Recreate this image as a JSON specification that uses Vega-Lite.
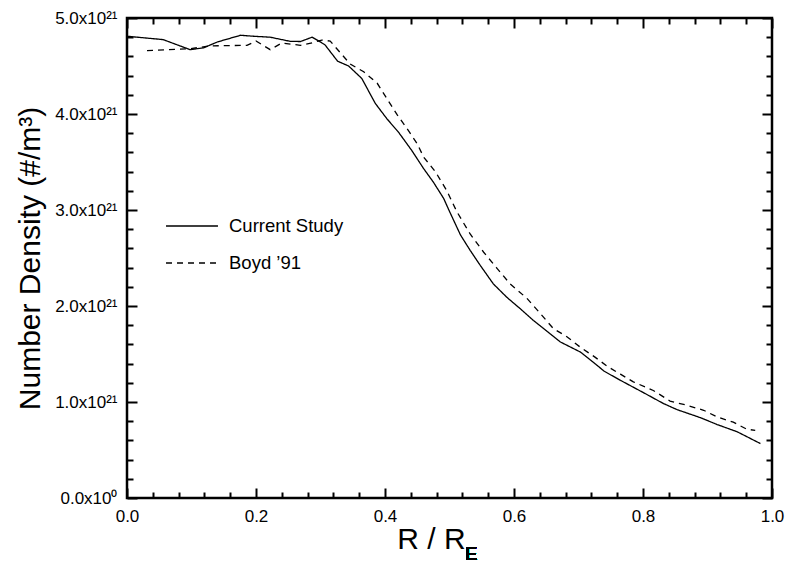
{
  "$schema": "https://vega.github.io/schema/vega-lite/v6.json",
  "width": 645,
  "height": 480,
  "autosize": {"type": "none"},
  "padding": {"left": 127, "top": 18, "right": 16, "bottom": 67},
  "config": {
    "view": {"stroke": "black", "strokeWidth": 2.5},
    "font": "Liberation Sans",
    "axis": {
      "domain": false, "grid": false, "ticks": true, "tickColor": "black", "tickWidth": 2, "tickOpacity": 1, "zindex": 1,
      "labelColor": "black", "titleColor": "black", "labelFont": "Liberation Sans",
      "titleFont": "Liberation Sans", "labelFontSize": 17, "titleFontSize": 30, "titleFontWeight": "normal",
      "labelFlush": false, "labelOverlap": false
    }
  },
  "datasets": {
    "curves": [
      {"series": "Current Study", "r": 0.0, "n": 4.81},
      {"series": "Current Study", "r": 0.056, "n": 4.775},
      {"series": "Current Study", "r": 0.098, "n": 4.67},
      {"series": "Current Study", "r": 0.119, "n": 4.69},
      {"series": "Current Study", "r": 0.14, "n": 4.75},
      {"series": "Current Study", "r": 0.176, "n": 4.82},
      {"series": "Current Study", "r": 0.196, "n": 4.81},
      {"series": "Current Study", "r": 0.222, "n": 4.8},
      {"series": "Current Study", "r": 0.253, "n": 4.757},
      {"series": "Current Study", "r": 0.269, "n": 4.755},
      {"series": "Current Study", "r": 0.287, "n": 4.8},
      {"series": "Current Study", "r": 0.3, "n": 4.75},
      {"series": "Current Study", "r": 0.307, "n": 4.72},
      {"series": "Current Study", "r": 0.3265, "n": 4.55},
      {"series": "Current Study", "r": 0.3436, "n": 4.5},
      {"series": "Current Study", "r": 0.364, "n": 4.37},
      {"series": "Current Study", "r": 0.385, "n": 4.11},
      {"series": "Current Study", "r": 0.403, "n": 3.95},
      {"series": "Current Study", "r": 0.421, "n": 3.81},
      {"series": "Current Study", "r": 0.4415, "n": 3.62},
      {"series": "Current Study", "r": 0.46, "n": 3.43},
      {"series": "Current Study", "r": 0.475, "n": 3.29},
      {"series": "Current Study", "r": 0.491, "n": 3.12},
      {"series": "Current Study", "r": 0.499, "n": 3.0},
      {"series": "Current Study", "r": 0.517, "n": 2.74},
      {"series": "Current Study", "r": 0.532, "n": 2.58},
      {"series": "Current Study", "r": 0.548, "n": 2.42},
      {"series": "Current Study", "r": 0.568, "n": 2.23},
      {"series": "Current Study", "r": 0.589, "n": 2.09},
      {"series": "Current Study", "r": 0.61, "n": 1.97},
      {"series": "Current Study", "r": 0.63, "n": 1.85},
      {"series": "Current Study", "r": 0.646, "n": 1.765},
      {"series": "Current Study", "r": 0.672, "n": 1.625},
      {"series": "Current Study", "r": 0.703, "n": 1.52},
      {"series": "Current Study", "r": 0.72, "n": 1.43},
      {"series": "Current Study", "r": 0.74, "n": 1.32},
      {"series": "Current Study", "r": 0.765, "n": 1.226},
      {"series": "Current Study", "r": 0.8, "n": 1.1},
      {"series": "Current Study", "r": 0.832, "n": 0.983},
      {"series": "Current Study", "r": 0.853, "n": 0.92},
      {"series": "Current Study", "r": 0.889, "n": 0.837},
      {"series": "Current Study", "r": 0.915, "n": 0.765},
      {"series": "Current Study", "r": 0.946, "n": 0.69},
      {"series": "Current Study", "r": 0.982, "n": 0.567},
      {"series": "Boyd ’91", "r": 0.031, "n": 4.66},
      {"series": "Boyd ’91", "r": 0.098, "n": 4.68},
      {"series": "Boyd ’91", "r": 0.129, "n": 4.71},
      {"series": "Boyd ’91", "r": 0.186, "n": 4.715},
      {"series": "Boyd ’91", "r": 0.2, "n": 4.76},
      {"series": "Boyd ’91", "r": 0.222, "n": 4.67},
      {"series": "Boyd ’91", "r": 0.24, "n": 4.74},
      {"series": "Boyd ’91", "r": 0.269, "n": 4.715},
      {"series": "Boyd ’91", "r": 0.289, "n": 4.745},
      {"series": "Boyd ’91", "r": 0.302, "n": 4.77},
      {"series": "Boyd ’91", "r": 0.315, "n": 4.76},
      {"series": "Boyd ’91", "r": 0.346, "n": 4.52},
      {"series": "Boyd ’91", "r": 0.367, "n": 4.44},
      {"series": "Boyd ’91", "r": 0.388, "n": 4.32},
      {"series": "Boyd ’91", "r": 0.403, "n": 4.16},
      {"series": "Boyd ’91", "r": 0.419, "n": 3.99},
      {"series": "Boyd ’91", "r": 0.434, "n": 3.85},
      {"series": "Boyd ’91", "r": 0.45, "n": 3.69},
      {"series": "Boyd ’91", "r": 0.46, "n": 3.55},
      {"series": "Boyd ’91", "r": 0.478, "n": 3.4},
      {"series": "Boyd ’91", "r": 0.4955, "n": 3.205},
      {"series": "Boyd ’91", "r": 0.5116, "n": 2.98},
      {"series": "Boyd ’91", "r": 0.532, "n": 2.75},
      {"series": "Boyd ’91", "r": 0.553, "n": 2.56},
      {"series": "Boyd ’91", "r": 0.574, "n": 2.39},
      {"series": "Boyd ’91", "r": 0.594, "n": 2.23},
      {"series": "Boyd ’91", "r": 0.62, "n": 2.08},
      {"series": "Boyd ’91", "r": 0.641, "n": 1.92},
      {"series": "Boyd ’91", "r": 0.661, "n": 1.765},
      {"series": "Boyd ’91", "r": 0.682, "n": 1.68},
      {"series": "Boyd ’91", "r": 0.703, "n": 1.57},
      {"series": "Boyd ’91", "r": 0.725, "n": 1.47},
      {"series": "Boyd ’91", "r": 0.745, "n": 1.37},
      {"series": "Boyd ’91", "r": 0.765, "n": 1.29},
      {"series": "Boyd ’91", "r": 0.785, "n": 1.21},
      {"series": "Boyd ’91", "r": 0.816, "n": 1.12},
      {"series": "Boyd ’91", "r": 0.842, "n": 1.01},
      {"series": "Boyd ’91", "r": 0.868, "n": 0.966},
      {"series": "Boyd ’91", "r": 0.894, "n": 0.914},
      {"series": "Boyd ’91", "r": 0.915, "n": 0.844},
      {"series": "Boyd ’91", "r": 0.94, "n": 0.79},
      {"series": "Boyd ’91", "r": 0.961, "n": 0.716},
      {"series": "Boyd ’91", "r": 0.974, "n": 0.705}
    ]
  },
  "data": {"name": "curves"},
  "layer": [
    {
      "mark": {"type": "line", "color": "black", "strokeWidth": 1.3},
      "encoding": {
        "x": {
          "field": "r", "type": "quantitative",
          "scale": {"domain": [0, 1], "nice": false, "zero": false},
          "axis": {
            "orient": "bottom", "offset": -10, "tickSize": 10,
            "title": "R / R", "titleX": 304, "titleY": 60, "titleBaseline": "alphabetic", "titleAlign": "center",
            "values": [0, 0.2, 0.4, 0.6, 0.8, 1.0],
            "labelExpr": "format(datum.value, '.1f')",
            "labelPadding": 18, "labelBaseline": "middle"
          }
        },
        "y": {
          "field": "n", "type": "quantitative",
          "scale": {"domain": [0, 5], "nice": false},
          "axis": {
            "orient": "left", "offset": -10, "tickSize": 10,
            "title": "Number Density (#/m³)", "titleX": -98, "titleY": 240, "titleBaseline": "alphabetic", "titleAlign": "center", "titleAngle": -90,
            "values": [0, 1, 2, 3, 4, 5],
            "labelExpr": "datum.value == 0 ? '0.0x10⁰' : format(datum.value, '.1f') + 'x10²¹'",
            "labelPadding": 10, "labelBaseline": "middle"
          }
        },
        "strokeDash": {
          "field": "series", "type": "nominal",
          "scale": {"domain": ["Current Study", "Boyd ’91"], "range": [[1, 0], [6, 5]]},
          "legend": {
            "title": null, "orient": "none", "legendX": 38, "legendY": 181, "padding": 0,
            "symbolType": "stroke", "symbolSize": 2700, "symbolStrokeWidth": 1.3, "symbolStrokeColor": "black",
            "labelFontSize": 18.5, "labelFont": "Liberation Sans", "labelColor": "black", "labelOffset": 10, "rowPadding": -19
          }
        }
      }
    },
    {
      "mark": {"type": "line", "opacity": 0},
      "encoding": {
        "x": {
          "field": "r", "type": "quantitative",
          "axis": {"orient": "top", "offset": -10, "tickSize": 10, "title": null, "labels": false, "values": [0, 0.2, 0.4, 0.6, 0.8, 1.0]}
        },
        "y": {
          "field": "n", "type": "quantitative",
          "axis": {"orient": "right", "offset": -10, "tickSize": 10, "title": null, "labels": false, "values": [0, 1, 2, 3, 4, 5]}
        },
        "detail": {"field": "series", "type": "nominal"}
      }
    },
    {
      "mark": {"type": "line", "opacity": 0},
      "encoding": {
        "x": {
          "field": "r", "type": "quantitative",
          "axis": {"orient": "bottom", "offset": -6, "tickSize": 6, "title": null, "labels": false,
            "values": [0.04,0.08,0.12,0.16,0.24,0.28,0.32,0.36,0.44,0.48,0.52,0.56,0.64,0.68,0.72,0.76,0.84,0.88,0.92,0.96]}
        },
        "y": {
          "field": "n", "type": "quantitative",
          "axis": {"orient": "left", "offset": -6, "tickSize": 6, "title": null, "labels": false,
            "values": [0.2,0.4,0.6,0.8,1.2,1.4,1.6,1.8,2.2,2.4,2.6,2.8,3.2,3.4,3.6,3.8,4.2,4.4,4.6,4.8]}
        },
        "detail": {"field": "series", "type": "nominal"}
      }
    },
    {
      "mark": {"type": "line", "opacity": 0},
      "encoding": {
        "x": {
          "field": "r", "type": "quantitative",
          "axis": {"orient": "top", "offset": -6, "tickSize": 6, "title": null, "labels": false,
            "values": [0.04,0.08,0.12,0.16,0.24,0.28,0.32,0.36,0.44,0.48,0.52,0.56,0.64,0.68,0.72,0.76,0.84,0.88,0.92,0.96]}
        },
        "y": {
          "field": "n", "type": "quantitative",
          "axis": {"orient": "right", "offset": -6, "tickSize": 6, "title": null, "labels": false,
            "values": [0.2,0.4,0.6,0.8,1.2,1.4,1.6,1.8,2.2,2.4,2.6,2.8,3.2,3.4,3.6,3.8,4.2,4.4,4.6,4.8]}
        },
        "detail": {"field": "series", "type": "nominal"}
      }
    },
    {
      "mark": {"type": "text", "text": "E", "fontSize": 18, "font": "Liberation Sans", "align": "left", "baseline": "alphabetic", "dy": 62, "color": "black"},
      "encoding": {
        "x": {"datum": 0.5245, "type": "quantitative", "axis": null},
        "y": {"datum": 0, "type": "quantitative", "axis": null}
      }
    }
  ],
  "resolve": {"axis": {"x": "independent", "y": "independent"}}
}
